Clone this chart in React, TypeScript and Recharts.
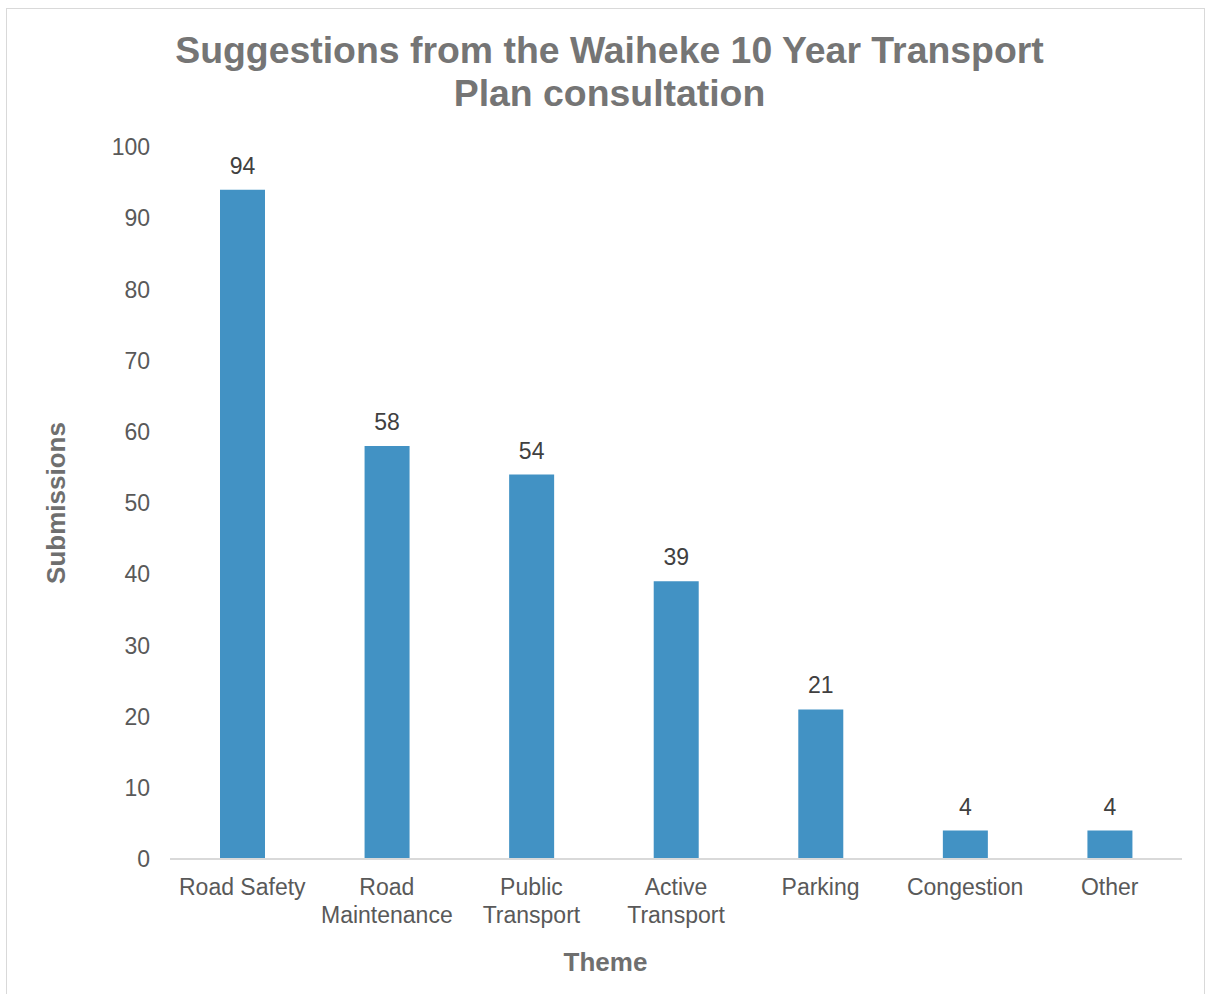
import { BarChart, Bar, XAxis, YAxis, LabelList, Label } from "recharts";

// Waiheke 10 Year Transport Plan consultation — submissions by theme
const themes = [
  "Road Safety",
  "Road Maintenance",
  "Public Transport",
  "Active Transport",
  "Parking",
  "Congestion",
  "Other",
];
const submissions = [94, 58, 54, 39, 21, 4, 4];
const yTicks = [0, 10, 20, 30, 40, 50, 60, 70, 80, 90, 100];

const FONT = "'Liberation Sans', Arial, sans-serif";
const BAR = "#4292c4";

const data = themes.map((theme, i) => ({ theme, value: submissions[i] }));

// Two-word categories wrap onto two lines like the original
function ThemeTick(props: any) {
  const { x, y, payload } = props;
  const words: string[] = payload.value === "Road Safety" ? [payload.value] : payload.value.split(" ");
  return (
    <text x={x} y={y} textAnchor="middle" fill="#595959" fontSize={23} fontFamily={FONT}>
      {words.map((w, i) => (
        <tspan key={i} x={x} dy={28}>
          {w}
        </tspan>
      ))}
    </text>
  );
}

export default function App() {
  return (
    <div
      style={{
        position: "absolute",
        left: 6,
        top: 8,
        width: 1197,
        height: 990,
        border: "1px solid #d9d9d9",
        background: "#fff",
        fontFamily: FONT,
      }}
    >
      <div
        style={{
          position: "absolute",
          left: 0,
          right: 0,
          top: 20,
          textAlign: "center",
          fontSize: 37.4,
          fontWeight: "bold",
          color: "#757575",
          lineHeight: "43px",
          paddingLeft: 8,
        }}
      >
        Suggestions from the Waiheke 10 Year Transport
        <br />
        Plan consultation
      </div>
      {/* axis title is centred on the whole chart, not the plot area */}
      <div
        style={{
          position: "absolute",
          left: 0,
          right: 0,
          top: 938,
          textAlign: "center",
          fontSize: 26,
          fontWeight: "bold",
          color: "#6f6f6f",
          lineHeight: "30px",
        }}
      >
        Theme
      </div>
      <BarChart
        width={1195}
        height={988}
        data={data}
        margin={{ top: 138, right: 20, bottom: 28, left: 103 }}
      >
        <XAxis
          dataKey="theme"
          axisLine={{ stroke: "#d9d9d9", strokeWidth: 2 }}
          tickLine={false}
          tick={<ThemeTick />}
          interval={0}
          height={110}
        />
        <YAxis
          domain={[0, 100]}
          ticks={yTicks}
          interval={0}
          axisLine={false}
          tickLine={false}
          tickSize={0}
          tickMargin={20}
          width={60}
          tick={{ fill: "#595959", fontSize: 23, fontFamily: FONT }}
        >
          <Label
            value="Submissions"
            angle={-90}
            position="insideLeft"
            offset={-54}
            fill="#6f6f6f"
            fontSize={26}
            fontWeight="bold"
            fontFamily={FONT}
            style={{ textAnchor: "middle" }}
          />
        </YAxis>
        <Bar dataKey="value" fill={BAR} barSize={45} isAnimationActive={false}>
          <LabelList
            dataKey="value"
            position="top"
            offset={16}
            fill="#404040"
            fontSize={23}
            fontFamily={FONT}
          />
        </Bar>
      </BarChart>
    </div>
  );
}
